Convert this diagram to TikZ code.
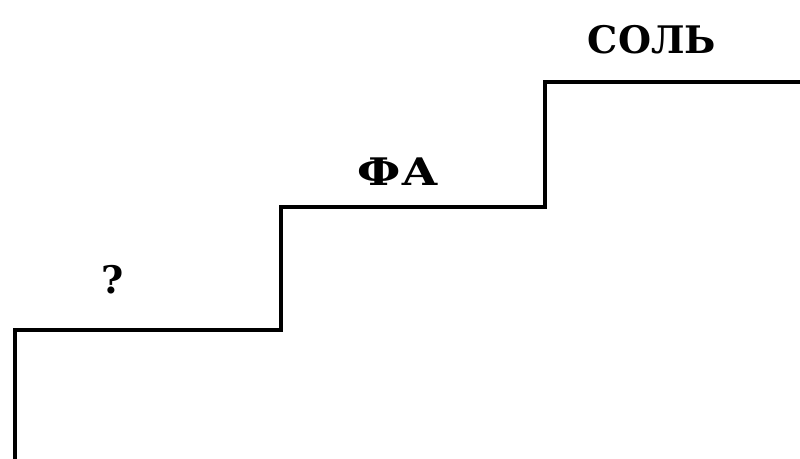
\documentclass[tikz,border=0pt]{standalone}
\usepackage{fontspec}
\setmainfont{DejaVu Serif}
\begin{document}
\begin{tikzpicture}[line width=3.4pt, label/.style={font=\bfseries\fontsize{#1}{30}\selectfont}]
\useasboundingbox (0,0) rectangle (20,11.45);
  % Draw stairs
  \draw[line join=miter]
    (0.375,-0.2) -- (0.375,3.2)
    -- (7.025,3.2)
    -- (7.025,6.275)
    -- (13.625,6.275)
    -- (13.625,9.4)
    -- (20.2,9.4);

  % Step labels
  \node[label=27] (q) at (2.825,4.45) {?};
  \node[label=27, xscale=1.2] (fa) at (9.95,7.15) {ФА};
  \node[label=27] (sol) at (16.3,10.45) {СОЛЬ};
\end{tikzpicture}
\end{document}
